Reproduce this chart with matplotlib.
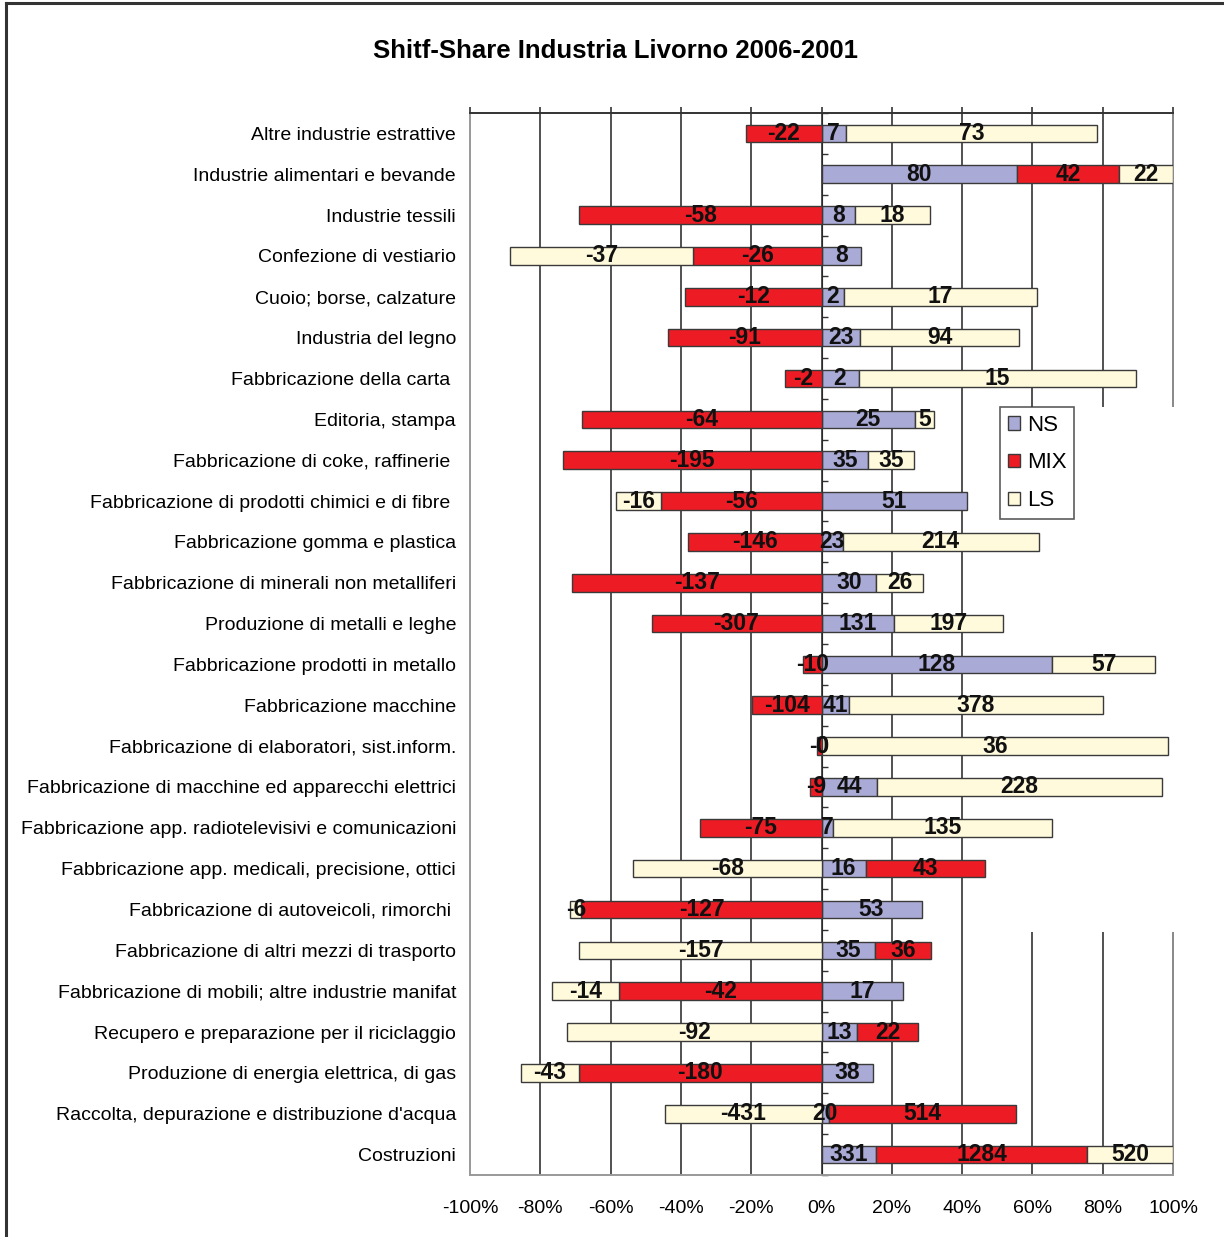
import matplotlib
matplotlib.use("Agg")
import matplotlib.pyplot as plt
from matplotlib.patches import Rectangle, Patch
from matplotlib.lines import Line2D
import numpy as np

plt.rcParams['font.family'] = ['Liberation Sans', 'DejaVu Sans']

title = "Shitf-Share Industria Livorno 2006-2001"

categories = [
    "Altre industrie estrattive",
    "Industrie alimentari e bevande",
    "Industrie tessili",
    "Confezione di vestiario",
    "Cuoio; borse, calzature",
    "Industria del legno",
    "Fabbricazione della carta ",
    "Editoria, stampa",
    "Fabbricazione di coke, raffinerie ",
    "Fabbricazione di prodotti chimici e di fibre ",
    "Fabbricazione gomma e plastica",
    "Fabbricazione di minerali non metalliferi",
    "Produzione di metalli e leghe",
    "Fabbricazione prodotti in metallo",
    "Fabbricazione macchine",
    "Fabbricazione di elaboratori, sist.inform.",
    "Fabbricazione di macchine ed apparecchi elettrici",
    "Fabbricazione app. radiotelevisivi e comunicazioni",
    "Fabbricazione app. medicali, precisione, ottici",
    "Fabbricazione di autoveicoli, rimorchi ",
    "Fabbricazione di altri mezzi di trasporto",
    "Fabbricazione di mobili; altre industrie manifat",
    "Recupero e preparazione per il riciclaggio",
    "Produzione di energia elettrica, di gas",
    "Raccolta, depurazione e distribuzione d'acqua",
    "Costruzioni",
]

ns = [7, 80, 8, 8, 2, 23, 2, 25, 35, 51, 23, 30, 131, 128, 41, 0, 44, 7,
      16, 53, 35, 17, 13, 38, 20, 331]
mix = [-22, 42, -58, -26, -12, -91, -2, -64, -195, -56, -146, -137, -307,
       -10, -104, -0.49, -9, -75, 43, -127, 36, -42, 22, -180, 514, 1284]
ls = [73, 22, 18, -37, 17, 94, 15, 5, 35, -16, 214, 26, 197, 57, 378, 36,
      228, 135, -68, -6, -157, -14, -92, -43, -431, 520]

series_names = ["NS", "MIX", "LS"]
series_values = [ns, mix, ls]
series_colors = ["#AAAAD6", "#ED1C24", "#FFFADC"]

xticks = [-1.0, -0.8, -0.6, -0.4, -0.2, 0.0, 0.2, 0.4, 0.6, 0.8, 1.0]
xtick_labels = ["-100%", "-80%", "-60%", "-40%", "-20%", "0%",
                "20%", "40%", "60%", "80%", "100%"]

W, H = 1224, 1237
fig = plt.figure(figsize=(W / 100, H / 100), dpi=100)
ax = fig.add_axes([470 / W, 1 - 1175 / H, (1173 - 470) / W, (1175 - 113) / H])

n = len(categories)
y = np.arange(n)
totals = np.abs(np.array(series_values, dtype=float)).sum(axis=0)

# stack each series outward from zero, positives right and negatives left
pos_left = np.zeros(n)
neg_left = np.zeros(n)
bar_h = 0.43
label_items = []
for name, vals, col in zip(series_names, series_values, series_colors):
    vals = np.array(vals, dtype=float)
    share = vals / totals
    lefts = np.where(share >= 0, pos_left, neg_left)
    ax.barh(y, share, left=lefts, height=bar_h, color=col,
            edgecolor="#3a3a3a", linewidth=1.0, zorder=3)
    for i in range(n):
        label_items.append((lefts[i] + share[i] / 2, y[i], "%.0f" % vals[i]))
    pos_left = pos_left + np.where(share >= 0, share, 0)
    neg_left = neg_left + np.where(share < 0, share, 0)

for xc, yc, txt in label_items:
    ax.text(xc, yc, txt, ha="center", va="center", fontsize=16.5,
            fontweight="bold", color="#111111", zorder=4)

ax.set_xlim(-1, 1)
ax.set_ylim(n - 0.5, -0.5)

# vertical gridlines
for t in xticks[1:-1]:
    ax.axvline(t, color="#333333", linewidth=1.2, zorder=1)

ax.set_xticks(xticks)
ax.set_xticklabels(xtick_labels, fontsize=14)
ax.tick_params(axis="x", bottom=False, top=True, direction="out", length=4,
               color="#333333", width=1.2, pad=14, labelbottom=True,
               labeltop=False)

ax.set_yticks(y)
ax.set_yticklabels(categories, fontsize=14)
ax.tick_params(axis="y", length=0, pad=10)

for side, col, lw in [("top", "#333333", 1.4), ("bottom", "#999999", 1.4),
                      ("left", "#999999", 1.4), ("right", "#888888", 1.4)]:
    ax.spines[side].set_color(col)
    ax.spines[side].set_linewidth(lw)

# category axis through zero with boundary ticks
sec = ax.secondary_yaxis(0.5)
sec.set_yticks(np.arange(n + 1) - 0.5)
sec.set_yticklabels([])
sec.tick_params(axis="y", direction="out", length=4, width=1.0, color="#333333")
sec.spines["left"].set_color("#333333")
sec.spines["left"].set_linewidth(1.2)

# blank band behind the legend area
ax.add_patch(Rectangle((0.747, 1 - (932 - 113) / 1062), 0.35,
                       (932 - 407) / 1062, transform=ax.transAxes,
                       facecolor="white", edgecolor="none", zorder=2.8,
                       clip_on=False))

handles = [Patch(facecolor=c, edgecolor="#3a3a3a", linewidth=1.0, label=s)
           for s, c in zip(series_names, series_colors)]
leg = fig.legend(handles=handles, loc="upper left",
                 bbox_to_anchor=(1000 / W, 1 - 407 / H), fontsize=16,
                 frameon=True, fancybox=False, shadow=False,
                 handlelength=0.55, handleheight=0.55, handletextpad=0.3,
                 labelspacing=0.75, borderpad=0.35, borderaxespad=0)
leg.get_frame().set_edgecolor("#333333")
leg.get_frame().set_linewidth(1.2)

fig.text(0.503, 1 - 51 / H, title, ha="center", va="center",
         fontsize=18.5, fontweight="bold")

# outer frame
fig.add_artist(Line2D([5.5 / W, 5.5 / W], [0, 1 - 3 / H], color="#333333",
                      linewidth=2.2))
fig.add_artist(Line2D([5.5 / W, 1], [1 - 3 / H, 1 - 3 / H], color="#333333",
                      linewidth=2.2))

fig.savefig("out.png", dpi=100, facecolor="white")
